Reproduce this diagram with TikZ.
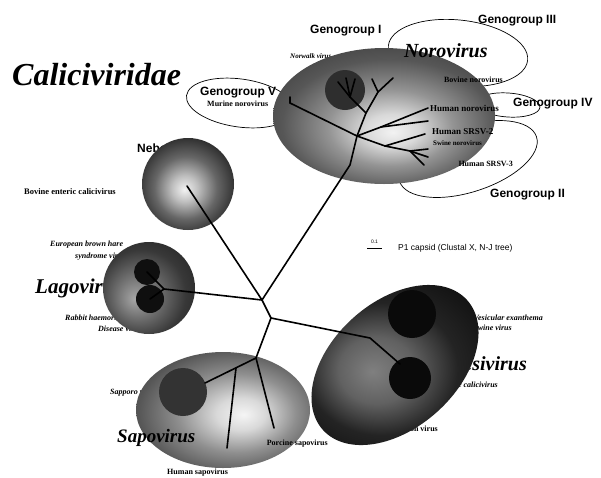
\documentclass[tikz,border=0pt]{standalone}
\usepackage{fontspec}
\setmainfont{Liberation Serif}
\newfontfamily\arialfont{Liberation Sans}
\usetikzlibrary{positioning}

% blob shadings: light core, dark rim
\pgfdeclareradialshading{noroshade}{\pgfpoint{2bp}{-6bp}}{color(0bp)=(black!5); color(6bp)=(black!15); color(14bp)=(black!42); color(24bp)=(black!66); color(35bp)=(black!78); color(50bp)=(black!78)}
\pgfdeclareradialshading{nebshade}{\pgfpoint{-2bp}{-3bp}}{color(0bp)=(black!5); color(7bp)=(black!25); color(17bp)=(black!60); color(27bp)=(black!82); color(35bp)=(black!88); color(50bp)=(black!88)}
\pgfdeclareradialshading{lagoshade}{\pgfpoint{-8bp}{-6bp}}{color(0bp)=(black!35); color(11bp)=(black!55); color(24bp)=(black!78); color(35bp)=(black!86); color(50bp)=(black!86)}
\pgfdeclareradialshading{saposhade}{\pgfpoint{6bp}{-2bp}}{color(0bp)=(black!4); color(7bp)=(black!15); color(17bp)=(black!44); color(27bp)=(black!66); color(35bp)=(black!76); color(50bp)=(black!76)}
\pgfdeclareradialshading{vesishade}{\pgfpoint{-6bp}{-2bp}}{color(0bp)=(black!50); color(10bp)=(black!62); color(20bp)=(black!86); color(35bp)=(black!96); color(50bp)=(black!96)}

\begin{document}
\begin{tikzpicture}[x=1pt,y=-1pt]
  \tikzstyle{family}=[inner sep=0pt,font=\fontsize{32}{34}\selectfont\bfseries\itshape]
  \tikzstyle{genus}=[inner sep=0pt,font=\fontsize{20}{22}\selectfont\bfseries\itshape]
  \tikzstyle{group}=[inner sep=0pt,font=\arialfont\fontsize{12}{14}\selectfont\bfseries]
  \tikzstyle{strain}=[inner sep=0pt,font=\fontsize{8}{9}\selectfont\bfseries]
  \tikzstyle{strainit}=[inner sep=0pt,font=\fontsize{8}{9}\selectfont\bfseries\itshape]
  \tikzstyle{ring}=[draw=black,line width=0.7pt]
  \tikzstyle{core}=[fill=black!82]
  \tikzstyle{branch}=[line width=1.6pt,line cap=round,line join=round]

  \path[fill=white,use as bounding box] (0,0) rectangle (601,477);

  % -- labels that sit behind the blobs --
  \node[strain,anchor=base west] (murine) at (207,106) {Murine norovirus};
  \node[strainit,font=\fontsize{7}{8}\selectfont\bfseries\itshape,anchor=base west] (norwalk) at (290,58) {Norwalk virus};
  \node[group,anchor=base west] (nebo) at (137,152) {Nebovirus};
  \node[strainit,anchor=base west] (ebhs) at (50,246) {European brown hare};
  \node[strainit,anchor=base west] (ebhs2) at (75,258) {syndrome virus};
  \node[genus,font=\fontsize{21}{23}\selectfont\bfseries\itshape,anchor=base west] (lago) at (35,293) {Lagovirus};
  \node[strainit,anchor=base west] (rhdv) at (65,320) {Rabbit haemorrhagic};
  \node[strainit,anchor=base west] (rhdv2) at (98,331) {Disease virus};
  \node[strainit,anchor=base west] (sapporo) at (110,394) {Sapporo virus};
  \node[strainit,anchor=base east] (vesv) at (543,320) {Vesicular exanthema};
  \node[strainit,anchor=base east] (vesv2) at (512,330) {of swine virus};
  \node[genus,anchor=base east] (vesi) at (527,370) {Vesivirus};
  \node[strainit,anchor=base east] (fcv) at (498,387) {Feline calicivirus};
  \node[strain,anchor=base east] (smsv) at (438,431) {San Miguel sea lion virus};

  % -- genogroup rings (under the norovirus blob) --
  \draw[ring,rotate around={-6:(458,53)}] (458,53) ellipse [x radius=70pt,y radius=33pt];
  \draw[ring,rotate around={-8:(240,103)}] (240,103) ellipse [x radius=54pt,y radius=24pt];
  \draw[ring,rotate around={-4:(508,105)}] (508,105) ellipse [x radius=32pt,y radius=12pt];
  \draw[ring,rotate around={18:(468,159)}] (468,159) ellipse [x radius=72pt,y radius=33pt];

  % -- blobs --
  \shade[shading=noroshade] (384,116) ellipse [x radius=111pt,y radius=68pt];
  \fill[core] (345,90) circle [radius=20pt];
  \shade[shading=nebshade] (188,184) circle [radius=46pt];
  \shade[shading=lagoshade] (149,288) circle [radius=46pt];
  \fill[core,fill=black!94] (147,272) circle [radius=13pt];
  \fill[core,fill=black!94] (150,299) circle [radius=14pt];
  \shade[shading=saposhade] (223,410) ellipse [x radius=87pt,y radius=58pt];
  \fill[core,fill=black!80] (183,392) circle [radius=24pt];
  \shade[shading=vesishade,rotate around={42:(395,365)}] (395,365) ellipse [x radius=97pt,y radius=63pt];
  \fill[core,fill=black!96] (412,314) circle [radius=24pt];
  \fill[core,fill=black!96] (410,378) circle [radius=21pt];

  % -- tree --
  \coordinate (root) at (262,300);
  \coordinate (fork) at (271,318);
  \coordinate (neb) at (187,186);
  \coordinate (lag) at (164,289);
  \coordinate (lagA) at (147,272);
  \coordinate (lagB) at (150,299);
  \coordinate (nor) at (350,165);
  \coordinate (norA) at (357,136);
  \coordinate (norV) at (290,103);
  \coordinate (norB) at (366,113);
  \coordinate (gI) at (350,97);
  \coordinate (norC) at (378,92);
  \coordinate (norD) at (381,127);
  \coordinate (norE) at (385,146);
  \coordinate (norF) at (410,151);
  \coordinate (ves) at (370,338);
  \coordinate (vesA) at (400,364);
  \coordinate (sap) at (256,358);
  \coordinate (sapA) at (205,383);
  \coordinate (sapB) at (236,368);

  \draw[branch] (root) -- (neb);
  \draw[branch] (root) -- (lag) -- (lagA);
  \draw[branch] (lag) -- (lagB);
  \draw[branch] (root) -- (fork);
  \draw[branch] (root) -- (nor) -- (norA) -- (norV);
  \draw[branch] (norV) -- ++(0,-6);
  \draw[branch] (norA) -- (norB) -- (gI);
  \draw[branch] (gI) -- ++(-12,-15);
  \draw[branch] (gI) -- ++(-4,-19);
  \draw[branch] (gI) -- ++(5,-18);
  \draw[branch] (norB) -- (norC) -- ++(15,-14);
  \draw[branch] (norC) -- ++(-6,-13);
  \draw[branch] (norA) -- (norD) -- ++(47,-19);
  \draw[branch] (norD) -- ++(47,-6);
  \draw[branch] (norA) -- (norE) -- (norF) -- ++(18,-2);
  \draw[branch] (norF) -- ++(18,6);
  \draw[branch] (norF) -- ++(14,14);
  \draw[branch] (norE) -- ++(40,-12);
  \draw[branch] (fork) -- (ves) -- (vesA);
  \draw[branch] (fork) -- (sap) -- (sapA);
  \draw[branch] (sapB) -- (227,448);
  \draw[branch] (sap) -- (274,428);

  % -- labels on top --
  \node[family,anchor=base west] (cali) at (12,85) {Caliciviridae};
  \node[genus,anchor=base west] (noro) at (404,57) {Norovirus};
  \node[genus,font=\fontsize{19}{21}\selectfont\bfseries\itshape,anchor=base west] (sapo) at (117,442) {Sapovirus};
  \node[group,anchor=base west] (g1) at (310,33) {Genogroup I};
  \node[group,anchor=base west] (g3) at (478,23) {Genogroup III};
  \node[group,anchor=base west] (g4) at (513,106) {Genogroup IV};
  \node[group,anchor=base west] (g2) at (490,197) {Genogroup II};
  \node[group,anchor=base west] (g5) at (200,95) {Genogroup V};
  \node[strain,anchor=base east] (bovnoro) at (503,82) {Bovine norovirus};
  \node[strain,font=\fontsize{9}{10}\selectfont\bfseries,anchor=base west] (humnoro) at (430,111) {Human norovirus};
  \node[strain,font=\fontsize{9}{10}\selectfont\bfseries,anchor=base west] (srsv2) at (432,134) {Human SRSV-2};
  \node[strain,font=\fontsize{7}{8}\selectfont\bfseries,anchor=base west] (swine) at (433,145) {Swine norovirus};
  \node[strain,anchor=base east] (srsv3) at (513,166) {Human SRSV-3};
  \node[strain,font=\fontsize{8.5}{9}\selectfont\bfseries,anchor=base west] (becv) at (24,194) {Bovine enteric calicivirus};
  \node[strain,anchor=base west] (humsapo) at (167,474) {Human sapovirus};
  \node[strain,anchor=base east] (porsapo) at (328,445) {Porcine sapovirus};

  % -- scale bar --
  \coordinate (barL) at (367,248);
  \coordinate (barR) at (382,248);
  \draw[line width=0.8pt] (barL) -- (barR);
  \node[inner sep=0pt,font=\arialfont\fontsize{5}{6}\selectfont,anchor=base] (bar) at (374.5,243) {0.1};
  \node[inner sep=0pt,font=\arialfont\fontsize{8.5}{10}\selectfont,anchor=base west] (tree) at (398,250) {P1 capsid (Clustal X, N-J tree)};
\end{tikzpicture}
\end{document}
